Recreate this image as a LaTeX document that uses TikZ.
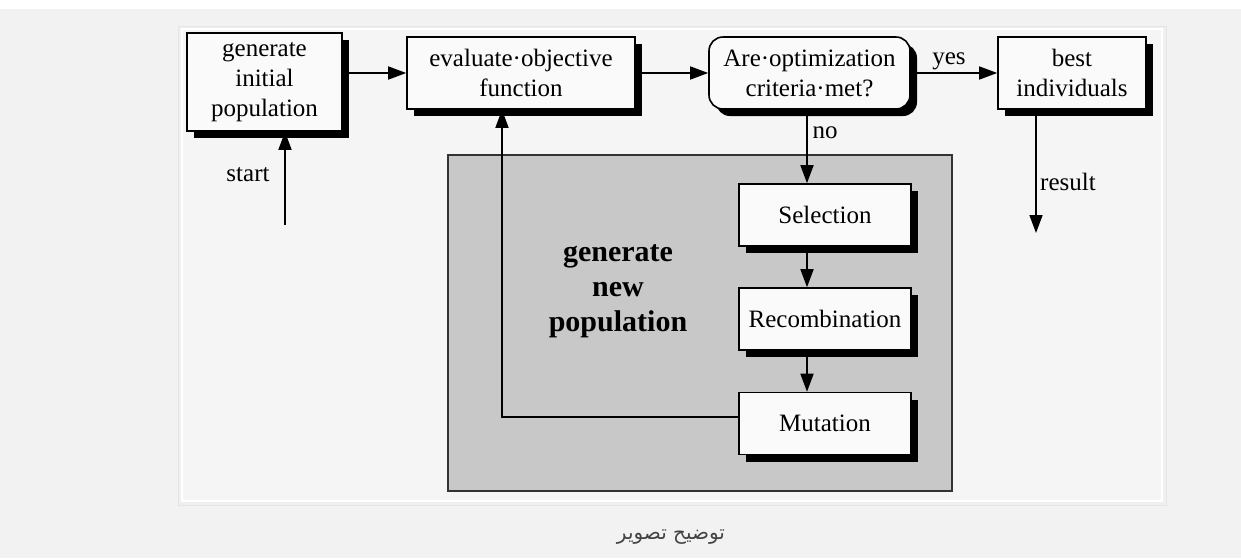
\documentclass[tikz,border=0pt]{standalone}
\usepackage{fontspec}
\setmainfont{Liberation Serif}
\newfontfamily\arabicfont[Script=Arabic]{DejaVu Sans}
\TeXXeTstate=1
\usetikzlibrary{arrows.meta,shadows,calc}
\definecolor{bgcol}{HTML}{F2F2F2}
\definecolor{panelcol}{HTML}{F5F5F5}
\definecolor{boxcol}{HTML}{FAFAFA}
\definecolor{graycol}{HTML}{C8C8C8}
\definecolor{capcol}{HTML}{444444}
\tikzset{
  stepbox/.style={draw=black, line width=1.6pt, fill=boxcol, rectangle,
    align=center, inner sep=0pt,
    font=\fontsize{25}{30}\selectfont,
    drop shadow={opacity=1, fill=black, shadow xshift=7pt, shadow yshift=-7pt}},
  roundbox/.style={stepbox, rounded corners=14pt},
  arr/.style={line width=1.6pt, -{Triangle[length=18pt,width=13pt]}},
  lbl/.style={font=\fontsize{25}{30}\selectfont, inner sep=0pt},
  boldlbl/.style={font=\fontsize{30}{35}\selectfont\bfseries, align=center, inner sep=0pt}
}
\begin{document}
\begin{tikzpicture}[x=1pt,y=-1pt]
\useasboundingbox (0,0) rectangle (1241,558);
% background
\fill[bgcol] (0,0) rectangle (1241,558);
\fill[white] (0,0) rectangle (1241,9);
% panel with soft shadow
\fill[black!10] (178,26) rectangle (1167,506);
\fill[black!6] (179,27) rectangle (1166,505);
\fill[white] (181,28) rectangle (1163,502);
\fill[panelcol] (183,30) rectangle (1161,500);
% gray region
\draw[line width=1.6pt, draw=black!80, fill=graycol] (448,155) rectangle (952,491);
% nodes
\node[stepbox, minimum width=155pt, minimum height=98pt] (gen) at (264.5,82) {generate\\initial\\population};
\node[stepbox, minimum width=228pt, minimum height=72pt] (eval) at (521,73) {evaluate·objective\\function};
\node[roundbox, minimum width=201pt, minimum height=72pt] (dec) at (809.5,73) {Are·optimization\\criteria·met?};
\node[stepbox, minimum width=148pt, minimum height=72pt] (best) at (1072,73) {best\\individuals};
\node[stepbox, minimum width=172pt, minimum height=62pt] (sel) at (825,215) {Selection};
\node[stepbox, minimum width=172pt, minimum height=62pt] (rec) at (825,319) {Recombination};
\node[stepbox, minimum width=172pt, minimum height=62pt] (mut) at (825,423.5) {Mutation};
\node[boldlbl] (gnp) at (618,291) {generate\\new\\population};
% coordinates
\coordinate (startpt) at (285,225);
\coordinate (fb) at (502,417);
\coordinate (resend) at (1036,233);
\coordinate (nox) at (807,0);
% connectors
\draw[arr] (startpt) -- (startpt |- gen.south);
\draw[arr] (gen.east |- eval.west) -- (eval.west);
\draw[arr] (eval.east) -- (dec.west);
\draw[arr] (dec.east) -- (best.west);
\draw[arr] (nox |- dec.south) -- (nox |- sel.north);
\draw[arr] (nox |- sel.south) -- (nox |- rec.north);
\draw[arr] (nox |- rec.south) -- (nox |- mut.north);
\draw[arr] (mut.west |- fb) -- (fb) -- (fb |- eval.south);
\draw[arr] (resend |- best.south) -- (resend);
% labels
\node[lbl] (lstart) at (248,175) {start};
\node[lbl] (lyes) at (949,61) {yes};
\node[lbl] (lno) at (825,133) {no};
\node[lbl] (lres) at (1068,182) {result};
% caption
\node[text=capcol, font=\arabicfont\fontsize{20}{24}\selectfont, inner sep=0pt] (cap) at (671,537) {\beginR توضیح تصویر\endR};
\end{tikzpicture}
\end{document}
